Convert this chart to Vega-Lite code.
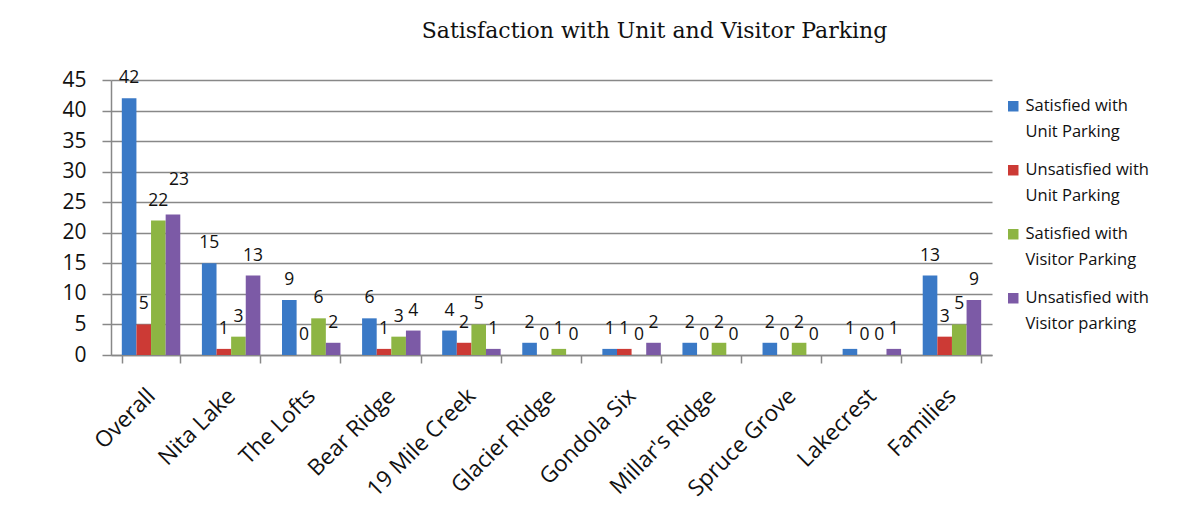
{
  "$schema": "https://vega.github.io/schema/vega-lite/v6.json",
  "width": 881,
  "height": 275,
  "autosize": "none",
  "padding": {"left": 111, "top": 80, "right": 201, "bottom": 174},
  "background": "white",
  "title": {
    "text": "Satisfaction with Unit and Visitor Parking",
    "font": "DejaVu Serif",
    "fontSize": 22,
    "fontWeight": "normal",
    "color": "#111",
    "anchor": "middle",
    "dx": 103,
    "offset": 26
  },
  "data": {
    "values": [
      {"place": "Overall", "series": "Satisfied with Unit Parking", "value": 42},
      {"place": "Overall", "series": "Unsatisfied with Unit Parking", "value": 5},
      {"place": "Overall", "series": "Satisfied with Visitor Parking", "value": 22},
      {"place": "Overall", "series": "Unsatisfied with Visitor parking", "value": 23},
      {"place": "Nita Lake", "series": "Satisfied with Unit Parking", "value": 15},
      {"place": "Nita Lake", "series": "Unsatisfied with Unit Parking", "value": 1},
      {"place": "Nita Lake", "series": "Satisfied with Visitor Parking", "value": 3},
      {"place": "Nita Lake", "series": "Unsatisfied with Visitor parking", "value": 13},
      {"place": "The Lofts", "series": "Satisfied with Unit Parking", "value": 9},
      {"place": "The Lofts", "series": "Unsatisfied with Unit Parking", "value": 0},
      {"place": "The Lofts", "series": "Satisfied with Visitor Parking", "value": 6},
      {"place": "The Lofts", "series": "Unsatisfied with Visitor parking", "value": 2},
      {"place": "Bear Ridge", "series": "Satisfied with Unit Parking", "value": 6},
      {"place": "Bear Ridge", "series": "Unsatisfied with Unit Parking", "value": 1},
      {"place": "Bear Ridge", "series": "Satisfied with Visitor Parking", "value": 3},
      {"place": "Bear Ridge", "series": "Unsatisfied with Visitor parking", "value": 4},
      {"place": "19 Mile Creek", "series": "Satisfied with Unit Parking", "value": 4},
      {"place": "19 Mile Creek", "series": "Unsatisfied with Unit Parking", "value": 2},
      {"place": "19 Mile Creek", "series": "Satisfied with Visitor Parking", "value": 5},
      {"place": "19 Mile Creek", "series": "Unsatisfied with Visitor parking", "value": 1},
      {"place": "Glacier Ridge", "series": "Satisfied with Unit Parking", "value": 2},
      {"place": "Glacier Ridge", "series": "Unsatisfied with Unit Parking", "value": 0},
      {"place": "Glacier Ridge", "series": "Satisfied with Visitor Parking", "value": 1},
      {"place": "Glacier Ridge", "series": "Unsatisfied with Visitor parking", "value": 0},
      {"place": "Gondola Six", "series": "Satisfied with Unit Parking", "value": 1},
      {"place": "Gondola Six", "series": "Unsatisfied with Unit Parking", "value": 1},
      {"place": "Gondola Six", "series": "Satisfied with Visitor Parking", "value": 0},
      {"place": "Gondola Six", "series": "Unsatisfied with Visitor parking", "value": 2},
      {"place": "Millar's Ridge", "series": "Satisfied with Unit Parking", "value": 2},
      {"place": "Millar's Ridge", "series": "Unsatisfied with Unit Parking", "value": 0},
      {"place": "Millar's Ridge", "series": "Satisfied with Visitor Parking", "value": 2},
      {"place": "Millar's Ridge", "series": "Unsatisfied with Visitor parking", "value": 0},
      {"place": "Spruce Grove", "series": "Satisfied with Unit Parking", "value": 2},
      {"place": "Spruce Grove", "series": "Unsatisfied with Unit Parking", "value": 0},
      {"place": "Spruce Grove", "series": "Satisfied with Visitor Parking", "value": 2},
      {"place": "Spruce Grove", "series": "Unsatisfied with Visitor parking", "value": 0},
      {"place": "Lakecrest", "series": "Satisfied with Unit Parking", "value": 1},
      {"place": "Lakecrest", "series": "Unsatisfied with Unit Parking", "value": 0},
      {"place": "Lakecrest", "series": "Satisfied with Visitor Parking", "value": 0},
      {"place": "Lakecrest", "series": "Unsatisfied with Visitor parking", "value": 1},
      {"place": "Families", "series": "Satisfied with Unit Parking", "value": 13},
      {"place": "Families", "series": "Unsatisfied with Unit Parking", "value": 3},
      {"place": "Families", "series": "Satisfied with Visitor Parking", "value": 5},
      {"place": "Families", "series": "Unsatisfied with Visitor parking", "value": 9}
    ]
  },
  "encoding": {
    "x": {
      "field": "place",
      "type": "nominal",
      "sort": null,
      "scale": {"paddingInner": 0.27, "paddingOuter": 0.135},
      "axis": {
        "title": null,
        "labelAngle": -45,
        "labelAlign": "right",
        "labelBaseline": "middle",
        "labelFont": "Open Sans",
        "labelFontSize": 22.5,
        "labelColor": "#111",
        "labelPadding": 29,
        "tickBand": "extent",
        "tickSize": 8,
        "tickColor": "#888",
        "tickWidth": 1.5,
        "domainColor": "#888",
        "domainWidth": 1.5,
        "grid": false
      }
    },
    "xOffset": {
      "field": "series",
      "type": "nominal",
      "sort": null,
      "scale": {"paddingInner": 0, "paddingOuter": 0}
    },
    "y": {
      "field": "value",
      "type": "quantitative",
      "scale": {"domain": [0, 45], "nice": false},
      "axis": {
        "title": null,
        "values": [0, 5, 10, 15, 20, 25, 30, 35, 40, 45],
        "labelFont": "Open Sans",
        "labelFontSize": 21,
        "labelColor": "#111",
        "labelPadding": 16,
        "tickSize": 9,
        "tickColor": "#888",
        "tickWidth": 1.5,
        "domainColor": "#888",
        "domainWidth": 1.5,
        "grid": true,
        "gridColor": "#888888",
        "gridWidth": 1.6
      }
    }
  },
  "layer": [
    {
      "mark": {"type": "bar"},
      "encoding": {
        "color": {
          "field": "series",
          "type": "nominal",
          "sort": null,
          "scale": {
            "domain": ["Satisfied with Unit Parking", "Unsatisfied with Unit Parking", "Satisfied with Visitor Parking", "Unsatisfied with Visitor parking"],
            "range": ["#3A79C6", "#CC3A35", "#8DB543", "#7C5AA6"]
          },
          "legend": {
            "title": null,
            "orient": "none",
            "legendX": 894,
            "legendY": 18,
            "symbolType": "square",
            "symbolSize": 110,
            "symbolStrokeWidth": 0,
            "labelFont": "Open Sans",
            "labelFontSize": 16.5,
            "labelColor": "#111",
            "labelLimit": 200,
            "rowPadding": 21,
            "labelOffset": 4,
            "labelExpr": "[slice(datum.label, 0, indexof(datum.label, ' with') + 5), slice(datum.label, indexof(datum.label, ' with') + 6)]"
          }
        }
      }
    },
    {
      "transform": [{"filter": "!(datum.place == 'Overall' && datum.series == 'Unsatisfied with Visitor parking')"}],
      "mark": {"type": "text", "baseline": "bottom", "dy": -11, "font": "Open Sans", "fontSize": 17.5, "color": "#111"},
      "encoding": {
        "text": {"field": "value", "type": "quantitative"}
      }
    },
    {
      "transform": [{"filter": "datum.place == 'Overall' && datum.series == 'Unsatisfied with Visitor parking'"}],
      "mark": {"type": "text", "baseline": "bottom", "dy": -25, "dx": 6, "font": "Open Sans", "fontSize": 17.5, "color": "#111"},
      "encoding": {
        "text": {"field": "value", "type": "quantitative"}
      }
    }
  ],
  "config": {
    "view": {"stroke": null},
    "style": {"guide-label": {"lineHeight": 26}}
  }
}
